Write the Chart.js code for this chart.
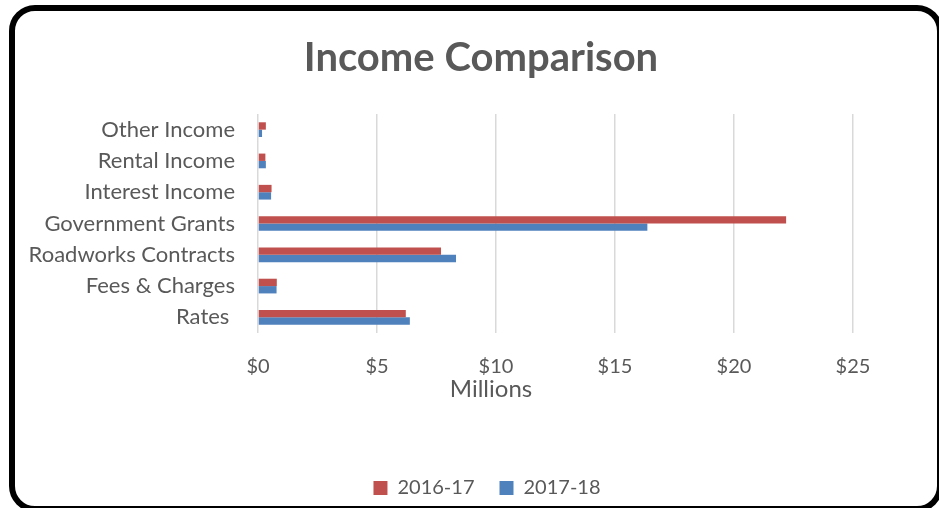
<!DOCTYPE html>
<html>
<head>
<meta charset="utf-8">
<script src="https://cdn.jsdelivr.net/npm/chart.js@4.4.1/dist/chart.umd.min.js"></script>
<style>
  html, body { margin: 0; padding: 0; background: #fff; overflow: hidden; }
  #wrap { position: relative; width: 939px; height: 508px; }
  #frame {
    position: absolute; left: 9px; top: 5px; width: 934px; height: 507px;
    box-sizing: border-box; border: 6px solid #000; border-radius: 26px;
    pointer-events: none;
  }
  canvas { position: absolute; left: 0; top: 0; }
</style>
</head>
<body>
<div id="wrap">
  <canvas id="income-chart" width="939" height="508"></canvas>
  <div id="frame"></div>
</div>
<script>
// カテゴリ（上から順）
const categories = [
  "Other Income",
  "Rental Income",
  "Interest Income",
  "Government Grants",
  "Roadworks Contracts",
  "Fees & Charges",
  "Rates ",
];
// 単位: 百万ドル
const income2016 = [0.33, 0.31, 0.57, 22.19, 7.69, 0.79, 6.21];
const income2017 = [0.17, 0.33, 0.55, 16.36, 8.32, 0.78, 6.38];
const xTicks = [0, 5, 10, 15, 20, 25];

const textColor = "#595959";
const fontFamily = "Lato, 'Open Sans', sans-serif";

// タイトル・凡例・軸タイトルを枠の中央寄りにずらす
const centerBoxes = {
  id: "centerBoxes",
  afterLayout(chart) {
    if (chart.titleBlock) chart.titleBlock.left = 109;
    if (chart.legend) chart.legend.left = 121;
    const xs = chart.scales.x;
    if (xs && !xs._shifted) {
      const orig = Object.getPrototypeOf(xs).drawTitle;
      xs.drawTitle = function () {
        const l = this.left;
        this.left = 129;
        orig.call(this);
        this.left = l;
      };
      xs._shifted = true;
    }
  },
};

function renderChart() {
  const ctx = document.getElementById("income-chart");

  new Chart(ctx, {
    type: "bar",
    data: {
      labels: categories,
      datasets: [
        {
          label: "2016-17",
          data: income2016,
          backgroundColor: "#C0504D",
          categoryPercentage: 0.47,
          barPercentage: 1,
        },
        {
          label: "2017-18",
          data: income2017,
          backgroundColor: "#4F81BD",
          categoryPercentage: 0.47,
          barPercentage: 1,
        },
      ],
    },
    plugins: [centerBoxes],
    options: {
      indexAxis: "y",
      responsive: false,
      animation: false,
      layout: { padding: { left: 0, right: 86, top: 0, bottom: 0 } },
      plugins: {
        legend: {
          position: "bottom",
          labels: {
            color: textColor,
            boxWidth: 14,
            boxHeight: 14,
            padding: 25,
            font: { family: fontFamily, size: 20 },
          },
        },
        title: {
          display: true,
          text: "Income Comparison",
          color: textColor,
          padding: { top: 34, bottom: 32 },
          font: { family: fontFamily, size: 40, weight: "bold" },
        },
        tooltip: { enabled: false },
      },
      scales: {
        x: {
          min: 0,
          max: xTicks[xTicks.length - 1],
          afterBuildTicks: (scale) => {
            scale.ticks = xTicks.map((v) => ({ value: v }));
          },
          afterFit: (scale) => {
            scale.height = 120;
          },
          grid: { color: "#d9d9d9", lineWidth: 1.5, drawTicks: false },
          border: { display: false },
          ticks: {
            color: textColor,
            padding: 22,
            font: { family: fontFamily, size: 20 },
            callback: (v) => "$" + v,
          },
          title: {
            display: true,
            text: "Millions",
            color: textColor,
            padding: { top: 2, bottom: 49 },
            font: { family: fontFamily, size: 24 },
          },
        },
        y: {
          grid: { display: false, drawTicks: false },
          border: { display: false },
          afterFit: (scale) => {
            scale.width = 258;
          },
          ticks: {
            color: textColor,
            padding: 23,
            font: { family: fontFamily, size: 22 },
          },
        },
      },
    },
  });
}

renderChart();
</script>
</body>
</html>
